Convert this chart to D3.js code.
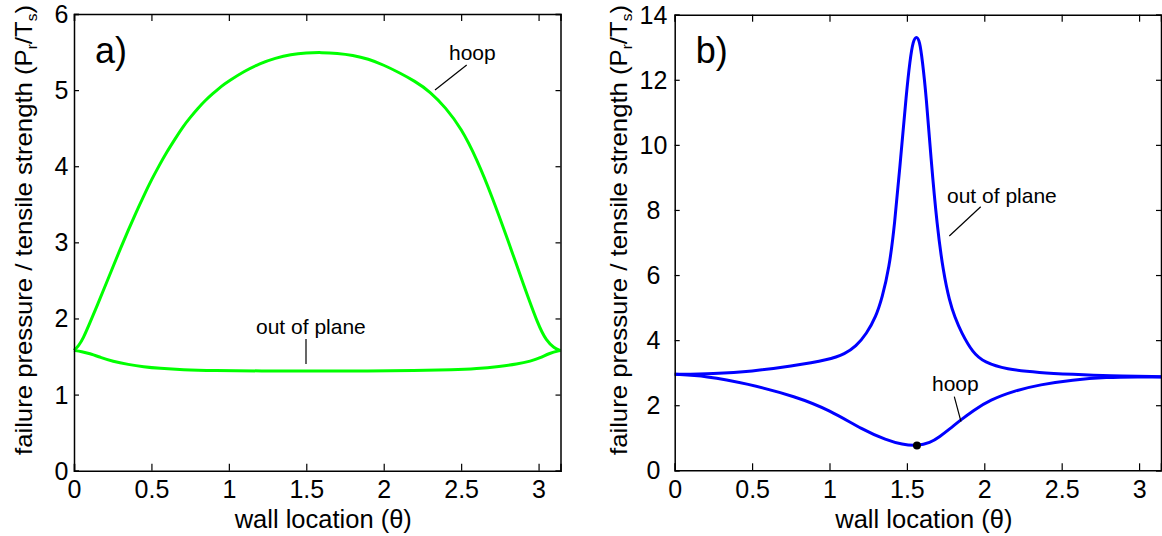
<!DOCTYPE html>
<html><head><meta charset="utf-8">
<script src="https://cdn.jsdelivr.net/npm/d3@7"></script>
<style>
html,body{margin:0;padding:0;background:#fff;}
svg text{font-family:"Liberation Sans",Arial,sans-serif;fill:#000;}
</style></head>
<body><svg id="c" width="1162" height="536"></svg>
<script>
// ---------- data ----------
const thetaDomain = [0, 3.1416];
const xTicks = [0, 0.5, 1, 1.5, 2, 2.5, 3];
const yTicksA = [0, 1, 2, 3, 4, 5, 6];
const yTicksB = [0, 2, 4, 6, 8, 10, 12, 14];

// panel a) hoop  [theta, value]
const aHoop = [[0,1.58],[0.03,1.64],[0.06,1.74],[0.1,1.93],[0.15,2.17],[0.2,2.42],[0.25,2.67],[0.3,2.92],[0.35,3.16],[0.4,3.39],[0.45,3.61],[0.5,3.82],[0.55,4.01],[0.6,4.19],[0.65,4.35],[0.7,4.51],[0.75,4.64],[0.8,4.76],[0.85,4.87],[0.9,4.96],[0.95,5.05],[1.0,5.12],[1.1,5.25],[1.2,5.35],[1.3,5.42],[1.4,5.47],[1.5,5.49],[1.6,5.495],[1.7,5.485],[1.8,5.46],[1.9,5.41],[2.0,5.33],[2.1,5.23],[2.2,5.12],[2.3,4.98],[2.4,4.77],[2.5,4.5],[2.6,4.1],[2.7,3.6],[2.8,3.04],[2.9,2.46],[3.0,1.9],[3.05,1.71],[3.1,1.61],[3.1416,1.58]];
// panel a) out of plane
const aOop = [[0,1.58],[0.05,1.565],[0.1,1.54],[0.17,1.49],[0.25,1.435],[0.35,1.395],[0.45,1.365],[0.55,1.345],[0.7,1.325],[0.9,1.315],[1.2,1.31],[1.57,1.31],[1.9,1.31],[2.2,1.315],[2.45,1.325],[2.6,1.34],[2.75,1.37],[2.86,1.4],[2.95,1.44],[3.01,1.48],[3.07,1.545],[3.1416,1.58]];
// panel b) out of plane
const bOop = [[0,2.95],[0.25,2.97],[0.5,3.04],[0.75,3.2],[1.0,3.4],[1.1,3.58],[1.17,3.8],[1.24,4.2],[1.3,4.72],[1.34,5.3],[1.385,6.2],[1.42,7.5],[1.46,9.6],[1.497,11.6],[1.52,12.6],[1.54,13.2],[1.562,13.35],[1.582,13.2],[1.6,12.6],[1.625,11.5],[1.655,9.6],[1.695,7.5],[1.735,6.1],[1.775,5.2],[1.81,4.7],[1.85,4.25],[1.927,3.6],[2.0,3.32],[2.14,3.1],[2.357,3.0],[2.57,2.95],[2.8,2.9],[3.1416,2.875]];
// panel b) hoop
const bHoop = [[0,2.95],[0.2,2.9],[0.465,2.67],[0.787,2.26],[1.0,1.85],[1.217,1.24],[1.368,0.93],[1.47,0.79],[1.565,0.75],[1.65,0.84],[1.711,1.03],[1.78,1.28],[1.84,1.52],[1.93,1.84],[2.035,2.16],[2.2,2.45],[2.357,2.63],[2.57,2.78],[2.79,2.86],[3.0,2.87],[3.1416,2.87]];
const bMin = [1.565, 0.76];

// ---------- drawing ----------
const svg = d3.select("#c");
const FS = 25;

function panel(cfg){
  const x = d3.scaleLinear().domain(thetaDomain).range([cfg.x0, cfg.x1]);
  const y = d3.scaleLinear().domain(cfg.yDomain).range([cfg.y0, cfg.y1]);
  const g = svg.append("g");

  const line = d3.line().x(d=>x(d[0])).y(d=>y(d[1])).curve(d3.curveBasis);
  cfg.series.forEach(s=>{
    g.append("path").attr("d", line(s)).attr("fill","none")
     .attr("stroke", cfg.color).attr("stroke-width", 3).attr("stroke-linejoin","round");
  });

  const bottom = g.append("g").attr("transform",`translate(0,${cfg.y0})`)
    .call(d3.axisBottom(x).tickValues(xTicks).tickSize(-7).tickPadding(10).tickFormat(d3.format("")));
  const top = g.append("g").attr("transform",`translate(0,${cfg.y1})`)
    .call(d3.axisTop(x).tickValues(xTicks).tickSize(-7).tickFormat(""));
  const left = g.append("g").attr("transform",`translate(${cfg.x0},0)`)
    .call(d3.axisLeft(y).tickValues(cfg.yTicks).tickSize(-5).tickPadding(0).tickFormat(d3.format("")));
  const right = g.append("g").attr("transform",`translate(${cfg.x1},0)`)
    .call(d3.axisRight(y).tickValues(cfg.yTicks).tickSize(-5).tickFormat(""));
  [bottom, top, left, right].forEach(a=>{
    a.select(".domain").attr("stroke","#000").attr("stroke-width",1.5);
    a.selectAll(".tick line").attr("stroke","#000").attr("stroke-width",1.2);
    a.selectAll("text").style("font-size", FS+"px").attr("fill","#000");
  });
  left.selectAll(".tick text").attr("text-anchor","middle").attr("x", cfg.ytickX - cfg.x0).attr("dy","0.34em");
  bottom.selectAll(".tick text").attr("dy","0.71em");

  g.append("text").attr("x", (cfg.x0+cfg.x1)/2 + 6).attr("y", 528)
    .attr("text-anchor","middle").style("font-size", "25.5px").text("wall location (θ)");

  const fs = 24;
  const yl = g.append("text").attr("transform",`translate(${cfg.ylabelX},230) rotate(-90)`)
    .attr("text-anchor","middle").style("font-size", fs+"px")
    .attr("textLength", 450).attr("lengthAdjust","spacingAndGlyphs");
  const sub = (fs*0.6).toFixed(1)+"px", dd = fs*0.2;
  yl.append("tspan").text("failure pressure / tensile strength (P");
  yl.append("tspan").text("r").style("font-size",sub).attr("dy", dd);
  yl.append("tspan").text("/T").attr("dy", -dd);
  yl.append("tspan").text("s").style("font-size",sub).attr("dy", dd);
  yl.append("tspan").text(")").attr("dy", -dd);

  g.append("text").attr("x", cfg.x0 + 21).attr("y", 63).style("font-size","36px").text(cfg.letter);

  cfg.notes.forEach(n=>{
    g.append("text").attr("x", n.tx).attr("y", n.ty).style("font-size","21px").text(n.text);
    g.append("line").attr("x1", n.l[0]).attr("y1", n.l[1]).attr("x2", n.l[2]).attr("y2", n.l[3])
      .attr("stroke","#000").attr("stroke-width",1.2);
  });
  return {x, y, g};
}

panel({
  x0: 74, x1: 560.5, y0: 470.7, y1: 14, yDomain:[0,6], yTicks: yTicksA,
  color:"#00ff00", series:[aHoop, aOop], letter:"a)", ytickX: 61.5, ylabelX: 32,
  notes:[
    {text:"hoop", tx:449, ty:60, l:[466.7,65,435,90]},
    {text:"out of plane", tx:256, ty:334, l:[306,339,306,364]}
  ]
});

const pb = panel({
  x0: 674.7, x1: 1161, y0: 470.3, y1: 14.7, yDomain:[0,14], yTicks: yTicksB,
  color:"#0000ff", series:[bOop, bHoop], letter:"b)", ytickX: 653.5, ylabelX: 627,
  notes:[
    {text:"out of plane", tx:947, ty:203, l:[980.7,206.7,949.3,236]},
    {text:"hoop", tx:932, ty:391, l:[954.3,396.7,961,421.7]}
  ]
});
pb.g.append("circle").attr("cx", pb.x(bMin[0])).attr("cy", pb.y(bMin[1])).attr("r", 4).attr("fill","#000");
</script></body></html>
